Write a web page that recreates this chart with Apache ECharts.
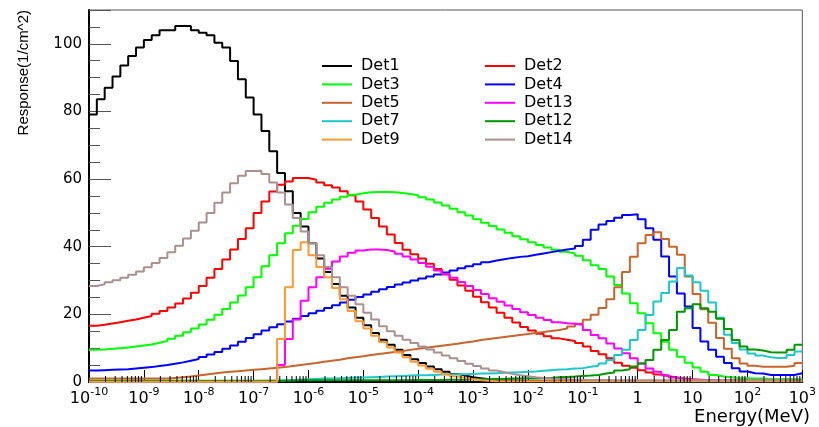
<!DOCTYPE html>
<html>
  <head>
    <meta charset="utf-8" />
    <title>Detector response</title>
    <script src="https://cdn.jsdelivr.net/npm/echarts@6.0.0/dist/echarts.min.js"></script>
    <style>
      * {
        padding: 0;
        margin: 0;
      }
      body {
        background: #fff;
      }
      #chart-panel {
        width: 819px;
        height: 427px;
      }
    </style>
  </head>
  <body>
    <div id="chart-panel"></div>
    <script type="text/javascript">
      var myChart = echarts.init(document.getElementById("chart-panel"));

      // 7 log bins per decade, 1e-10 .. 1e3 MeV (x axis is log10 of energy)
      const logMin = -10;
      const logMax = 3;
      const nBins = 91;

      const det1 = [
        79.1, 83.6, 87.0, 90.3, 93.6, 96.4, 98.9, 101.1, 102.5, 104.0,
        104.0, 105.3, 105.3, 104.0, 103.3, 102.5, 100.3, 98.9, 94.9, 89.5,
        84.1, 79.1, 74.2, 68.2, 61.8, 56.4, 50.0, 46.0, 41.0, 36.5,
        32.5, 29.0, 25.5, 22.0, 19.0, 16.8, 14.5, 12.5, 11.0, 9.5,
        8.0, 6.7, 5.6, 4.6, 3.8, 3.0, 2.4, 1.9, 1.4, 1.1,
        0.8, 0.6, 0.5, 0.45, 0.4, 0.4, 0.4, 0.35, 0.35, 0.35,
        0.3, 0.3, 0.3, 0.3, 0.3, 0.3, 0.3, 0.3, 0.3, 0.3,
        0.3, 0.3, 0.3, 0.3, 0.3, 0.3, 0.3, 0.3, 0.3, 0.3,
        0.3, 0.3, 0.3, 0.3, 0.3, 0.3, 0.3, 0.3, 0.3, 0.3,
        0.3,
      ];
      const det2 = [
        16.6, 16.9, 17.3, 17.7, 18.1, 18.5, 19.0, 19.5, 20.2, 21.0,
        22.0, 23.2, 24.7, 26.4, 28.4, 30.8, 33.4, 36.2, 39.2, 42.3,
        45.5, 50.0, 53.4, 56.3, 58.3, 59.3, 60.3, 60.3, 59.8, 59.0,
        58.2, 57.5, 56.4, 55.2, 53.4, 51.0, 48.5, 46.0, 43.6, 41.1,
        39.1, 37.8, 36.5, 35.0, 33.4, 31.8, 30.2, 28.5, 27.0, 25.2,
        23.6, 22.0, 20.5, 19.0, 17.6, 16.3, 15.2, 14.3, 13.5, 12.9,
        12.5, 12.1, 11.5, 10.5, 9.2, 8.2, 7.0, 5.7, 4.8, 4.2,
        3.5, 2.8, 2.2, 1.7, 1.3, 1.0, 0.8, 0.7, 0.6, 0.5,
        0.5, 0.5, 0.45, 0.45, 0.4, 0.4, 0.4, 0.4, 0.4, 0.4,
        0.4,
      ];
      const det3 = [
        9.5, 9.6, 9.8, 10.0, 10.2, 10.5, 10.8, 11.1, 11.6, 12.1,
        12.8, 13.7, 14.7, 15.8, 17.0, 18.4, 19.9, 21.6, 23.5, 25.6,
        28.0, 31.0, 34.2, 37.5, 41.0, 44.0, 46.2, 48.2, 50.2, 51.8,
        53.0, 54.0, 54.8, 55.4, 55.8, 56.1, 56.2, 56.2, 56.1, 55.9,
        55.6, 55.2, 54.6, 54.0, 53.1, 52.2, 51.2, 50.2, 49.2, 48.1,
        47.1, 46.1, 45.1, 44.1, 43.1, 42.2, 41.3, 40.5, 39.8, 39.1,
        38.5, 38.0, 37.3, 36.0, 34.5, 33.4, 31.2, 28.7, 26.2, 23.3,
        20.3, 17.4, 14.4, 11.9, 9.5, 7.5, 5.7, 4.3, 3.0, 2.1,
        1.6, 1.4, 1.2, 1.1, 1.0, 1.0, 0.9, 0.9, 0.9, 0.9,
        0.9,
      ];
      const det4 = [
        3.4, 3.5, 3.6, 3.7, 3.8, 4.0, 4.2, 4.4, 4.7, 5.0,
        5.4, 5.8, 6.3, 6.8, 7.4, 8.1, 8.9, 9.8, 10.8, 11.9,
        13.0, 14.1, 15.2, 16.2, 17.1, 17.9, 18.7, 19.5, 20.3, 21.1,
        21.9, 22.7, 23.5, 24.3, 25.1, 25.9, 26.7, 27.4, 28.1, 28.8,
        29.4, 30.0, 30.6, 31.2, 31.8, 32.4, 33.0, 33.6, 34.2, 34.8,
        35.4, 35.9, 36.3, 36.7, 37.0, 37.2, 37.6, 38.0, 38.4, 38.8,
        39.2, 39.5, 40.2, 42.1, 45.0, 46.6, 47.6, 48.6, 49.4, 49.6,
        48.1, 45.5, 42.1, 37.1, 31.2, 26.2, 22.3, 16.0, 12.0, 9.5,
        7.5, 5.6, 4.1, 3.1, 2.6, 2.5, 2.1, 2.1, 2.1, 2.1,
        2.6,
      ];
      const det5 = [
        1.0, 1.0, 1.0, 1.0, 1.0, 1.0, 1.0, 1.0, 1.0, 1.0,
        1.2, 1.4, 1.6, 1.9, 2.2, 2.5, 2.8, 3.0, 3.2, 3.4,
        3.6, 3.8, 4.0, 4.2, 4.4, 4.7, 5.0, 5.3, 5.6, 6.0,
        6.3, 6.6, 7.0, 7.3, 7.6, 8.0, 8.3, 8.6, 8.9, 9.2,
        9.5, 9.8, 10.1, 10.4, 10.7, 11.0, 11.3, 11.7, 12.0, 12.4,
        12.7, 13.0, 13.3, 13.6, 13.9, 14.2, 14.5, 14.8, 15.1, 15.4,
        15.8, 16.4, 17.2, 18.4, 19.9, 21.9, 24.5, 28.0, 32.5, 37.0,
        41.0, 43.5, 44.3, 42.3, 40.0, 37.6, 31.2, 26.0, 21.5, 17.5,
        13.0, 9.8, 7.0, 5.5, 4.8, 4.5, 4.5, 4.5, 4.5, 4.8,
        5.6,
      ];
      const det13 = [
        0, 0, 0, 0, 0, 0, 0, 0, 0, 0,
        0, 0, 0, 0, 0, 0, 0, 0, 0, 0,
        0, 0, 0, 0, 5.0, 12.7, 18.5, 24.0, 28.0, 31.0,
        33.5, 35.6, 37.1, 38.2, 38.9, 39.2, 39.2, 39.0, 38.6, 37.9,
        37.1, 36.2, 35.2, 34.1, 33.0, 31.9, 30.8, 29.6, 28.4, 27.2,
        26.0, 24.8, 23.7, 22.6, 21.6, 20.6, 19.8, 19.0, 18.3, 17.7,
        17.4, 17.2, 16.9, 15.4, 13.9, 12.9, 11.4, 9.9, 8.5, 7.0,
        5.5, 4.0, 3.0, 2.0, 1.3, 0.9, 0.7, 0.6, 0.6, 0.5,
        0.5, 0.5, 0.5, 0.5, 0.5, 0.5, 0.5, 0.5, 0.5, 0.5,
        0.5,
      ];
      const det7 = [
        0.2, 0.2, 0.2, 0.2, 0.2, 0.2, 0.2, 0.2, 0.2, 0.2,
        0.2, 0.2, 0.2, 0.2, 0.2, 0.2, 0.2, 0.2, 0.2, 0.2,
        0.2, 0.2, 0.3, 0.4, 0.5, 0.6, 0.7, 0.8, 0.9, 1.0,
        1.0, 1.1, 1.2, 1.3, 1.3, 1.4, 1.5, 1.6, 1.7, 1.8,
        1.9, 2.0, 2.0, 2.1, 2.2, 2.2, 2.3, 2.3, 2.4, 2.5,
        2.5, 2.6, 2.7, 2.8, 2.9, 3.0, 3.1, 3.3, 3.5, 3.7,
        3.8, 4.0, 4.1, 4.5, 4.8, 5.5, 6.5, 8.0, 9.5, 12.4,
        15.4, 19.8, 23.8, 26.3, 29.7, 33.7, 31.5, 29.5, 27.0, 23.5,
        19.0, 14.0, 11.5, 9.6, 8.4, 7.8, 7.3, 7.1, 7.2, 8.0,
        9.0,
      ];
      const det12 = [
        0.4, 0.4, 0.4, 0.4, 0.4, 0.4, 0.4, 0.4, 0.4, 0.4,
        0.4, 0.4, 0.4, 0.4, 0.4, 0.4, 0.4, 0.4, 0.4, 0.4,
        0.4, 0.4, 0.4, 0.4, 0.4, 0.4, 0.5, 0.5, 0.5, 0.5,
        0.5, 0.5, 0.5, 0.5, 0.5, 0.5, 0.5, 0.5, 0.5, 0.5,
        0.5, 0.6, 0.6, 0.6, 0.6, 0.7, 0.7, 0.7, 0.8, 0.8,
        0.8, 0.9, 0.9, 1.0, 1.0, 1.1, 1.1, 1.2, 1.2, 1.4,
        1.5, 1.6, 1.8, 1.9, 2.1, 2.5, 2.8, 3.4, 3.8, 4.6,
        5.5, 6.5, 9.5, 12.4, 15.4, 20.8, 21.8, 23.0, 21.8, 20.8,
        18.7, 15.7, 12.4, 10.5, 9.6, 9.3, 8.8, 8.7, 8.7, 9.5,
        11.0,
      ];
      const det9 = [
        0.1, 0.1, 0.1, 0.1, 0.1, 0.1, 0.1, 0.1, 0.1, 0.1,
        0.1, 0.1, 0.1, 0.1, 0.1, 0.1, 0.1, 0.1, 0.1, 0.1,
        0.1, 0.1, 0.1, 0.1, 12.7, 28.0, 39.0, 41.3, 37.5, 34.0,
        31.0, 27.8, 24.5, 21.0, 18.0, 15.8, 13.7, 11.8, 10.2, 8.7,
        7.3, 6.0, 4.9, 3.9, 3.0, 2.3, 1.7, 1.2, 0.8, 0.5,
        0.35, 0.25, 0.2, 0.2, 0.2, 0.2, 0.2, 0.2, 0.2, 0.2,
        0.2, 0.2, 0.2, 0.2, 0.2, 0.2, 0.2, 0.2, 0.2, 0.2,
        0.2, 0.2, 0.2, 0.2, 0.2, 0.2, 0.2, 0.2, 0.2, 0.2,
        0.2, 0.2, 0.2, 0.2, 0.2, 0.2, 0.2, 0.2, 0.2, 0.2,
        0.2,
      ];
      const det14 = [
        28.4, 28.9, 29.5, 30.1, 30.8, 31.7, 32.7, 33.9, 35.2, 36.7,
        38.4, 40.3, 42.4, 44.7, 47.2, 50.0, 53.0, 56.0, 58.8, 61.0,
        62.4, 62.5, 61.5, 59.0, 56.0, 52.5, 48.5, 44.5, 41.0, 37.5,
        34.0, 31.0, 28.0, 25.5, 23.0, 20.5, 18.5, 16.5, 15.0, 13.7,
        12.5, 11.5, 10.5, 9.6, 8.7, 7.8, 7.0, 6.2, 5.4, 4.7,
        4.0, 3.4, 2.9, 2.4, 2.0, 1.7, 1.4, 1.2, 1.0, 0.9,
        0.8, 0.7, 0.7, 0.6, 0.6, 0.6, 0.5, 0.5, 0.5, 0.5,
        0.5, 0.5, 0.5, 0.5, 0.5, 0.5, 0.5, 0.5, 0.5, 0.5,
        0.5, 0.5, 0.5, 0.5, 0.5, 0.5, 0.5, 0.5, 0.5, 0.5,
        0.5,
      ];

      const detNames = ["Det1", "Det2", "Det3", "Det4", "Det5", "Det13", "Det7", "Det12", "Det9", "Det14"];
      const detValues = [det1, det2, det3, det4, det5, det13, det7, det12, det9, det14];
      const legendLeft = ["Det1", "Det3", "Det5", "Det7", "Det9"];
      const legendRight = ["Det2", "Det4", "Det13", "Det12", "Det14"];
      const xTickExps = [-10, -9, -8, -7, -6, -5, -4, -3, -2, -1, 0, 1, 2, 3];

      const detColors = {
        Det1: "#000000",
        Det2: "#ff0000",
        Det3: "#00ff00",
        Det4: "#0000ff",
        Det5: "#c8642d",
        Det13: "#ff00ff",
        Det7: "#1ec8c8",
        Det12: "#009600",
        Det9: "#ff9933",
        Det14: "#aa9090",
      };

      const binWidth = (logMax - logMin) / nBins;

      // step histogram: one point per bin low edge, plus the last high edge
      function histPoints(vals) {
        var pts = [];
        for (var i = 0; i < vals.length; i++) {
          pts.push([logMin + i * binWidth, vals[i]]);
        }
        pts.push([logMax, vals[vals.length - 1]]);
        return pts;
      }

      // log minor ticks 2..9 in every decade
      var minorTicks = [];
      for (var d = logMin; d < logMax; d++) {
        for (var k = 2; k <= 9; k++) {
          minorTicks.push([d + Math.log10(k), 0]);
        }
      }

      var font = "DejaVu Sans";

      var series = detNames.map(function (name, idx) {
        return {
          name: name,
          type: "line",
          step: "end",
          data: histPoints(detValues[idx]),
          showSymbol: false,
          symbol: "none",
          color: detColors[name],
          lineStyle: { width: 2, color: detColors[name] },
          itemStyle: { color: detColors[name] },
          silent: true,
          z: 2 + idx * 0.01,
        };
      });

      series.push({
        type: "custom",
        name: "minor",
        data: minorTicks,
        silent: true,
        z: 5,
        renderItem: function (params, api) {
          var p = api.coord([api.value(0), 0]);
          return {
            type: "line",
            shape: { x1: p[0], y1: p[1], x2: p[0], y2: p[1] - 6 },
            style: { stroke: "#000", lineWidth: 1 },
          };
        },
      });

      function legendOf(names, left) {
        return {
          data: names,
          orient: "vertical",
          left: left,
          top: 58,
          padding: 0,
          itemGap: 2.4,
          itemWidth: 30,
          itemHeight: 2,
          icon: "rect",
          selectedMode: false,
          textStyle: {
            fontFamily: font,
            fontSize: 16,
            lineHeight: 16,
            color: "#000",
            padding: [0, 0, 0, 4],
          },
        };
      }

      option = {
        animation: false,
        backgroundColor: "#fff",
        grid: {
          left: 89,
          right: 7,
          top: 10,
          bottom: 45,
          show: true,
          borderColor: "#555",
          borderWidth: 1,
          backgroundColor: "transparent",
        },
        legend: [legendOf(legendLeft, 322), legendOf(legendRight, 485)],
        xAxis: {
          type: "value",
          min: logMin,
          max: logMax,
          interval: 1,
          axisLine: { onZero: false, lineStyle: { color: "#000", width: 2 } },
          axisTick: { inside: true, length: 12, lineStyle: { color: "#000", width: 1 } },
          splitLine: { show: false },
          axisLabel: {
            margin: 5,
            showMinLabel: true,
            showMaxLabel: true,
            formatter: function (v) {
              if (xTickExps.indexOf(v) < 0) return "";
              if (v === 0) return "{b|1}";
              if (v === 1) return "{b|10}";
              return "{b|10}{s|" + v + "}";
            },
            rich: {
              b: { fontFamily: font, fontSize: 16, color: "#000", lineHeight: 24 },
              s: { fontFamily: font, fontSize: 11, color: "#000", lineHeight: 11, verticalAlign: "top" },
            },
          },
        },
        yAxis: [
          {
            type: "value",
            min: 0,
            max: 110,
            interval: 20,
            name: "Response(1/cm^2)",
            nameLocation: "end",
            nameGap: 0,
            nameRotate: 90,
            nameTextStyle: {
              fontFamily: "Liberation Sans",
              fontSize: 15,
              color: "#000",
              align: "right",
              verticalAlign: "bottom",
              padding: [0, 0, 58, 0],
            },
            axisLine: { show: true, onZero: false, lineStyle: { color: "#000", width: 2 } },
            axisTick: { inside: true, length: 22, lineStyle: { color: "#555", width: 1 } },
            splitLine: { show: false },
            axisLabel: {
              margin: 7,
              fontFamily: font,
              fontSize: 15,
              color: "#000",
              formatter: function (v) {
                return v > 100 ? "" : String(v);
              },
            },
          },
          {
            type: "value",
            min: 0,
            max: 110,
            interval: 5,
            position: "left",
            axisLine: { show: false, onZero: false },
            axisTick: { inside: true, length: 11, lineStyle: { color: "#555", width: 1 } },
            splitLine: { show: false },
            axisLabel: { show: false },
          },
        ],
        graphic: [
          {
            type: "text",
            x: 810,
            y: 408,
            silent: true,
            style: {
              text: "Energy(MeV)",
              font: "18px 'DejaVu Sans'",
              fill: "#000",
              align: "right",
              verticalAlign: "top",
            },
          },
        ],
        series: series,
      };

      if (option && typeof option === "object") {
        myChart.setOption(option);
      }
      window.addEventListener("resize", myChart.resize);
    </script>
  </body>
</html>
